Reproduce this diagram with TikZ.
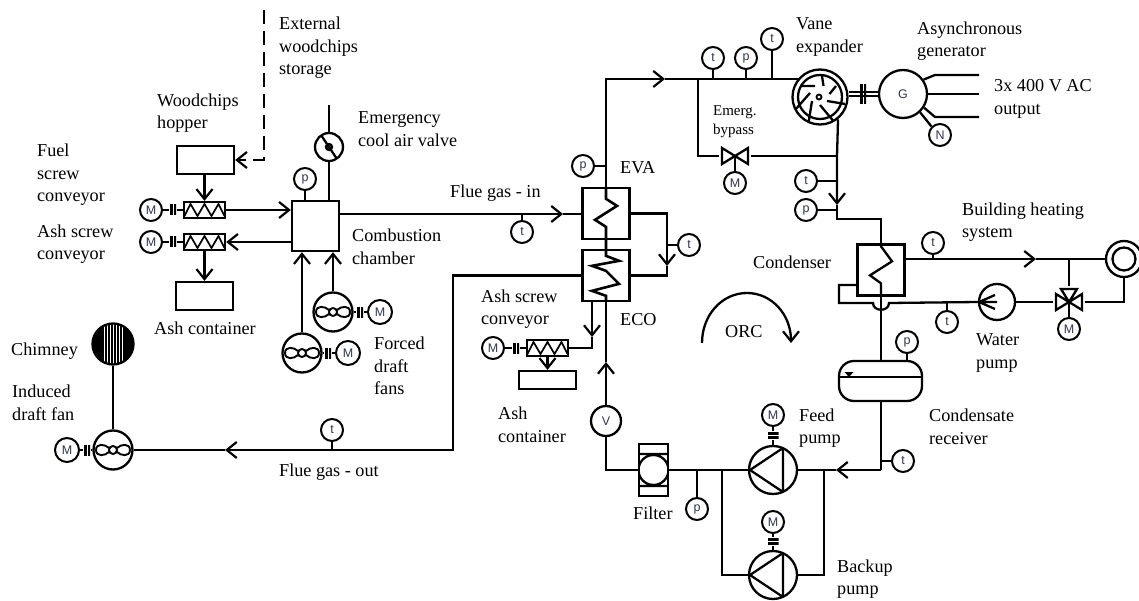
\documentclass[tikz,border=0pt]{standalone}
\usepackage{fontspec}
\setmainfont{Liberation Serif}
\setsansfont{Liberation Sans}
\usetikzlibrary{arrows.meta,positioning}
\begin{document}
\begin{tikzpicture}
      [x=1pt, y=-1pt, line width=2.3pt, >={Straight Barb[length=10pt,width=16pt,line width=2.2pt]},
      label node/.style={anchor=west,align=left,inner sep=0pt,font=\fontsize{18.2}{22.6}\selectfont},
      sensor node/.style={circle,draw,line width=2pt,minimum size=22pt,inner sep=0pt,text={rgb,255:red,45;green,55;blue,75},font=\sffamily\fontsize{12.5}{12.5}\selectfont},
      box node/.style={rectangle,draw,inner sep=0pt,minimum width=#1},
      exchanger node/.style={rectangle,draw,inner sep=0pt,minimum width=47pt,minimum height=51pt},
      screw node/.style={rectangle,draw,inner sep=0pt,minimum width=41pt,minimum height=16pt,
         path picture={\draw[line width=1.7pt,shift={(path picture bounding box.center)}]
            (-20,6) -- (-14,-6) -- (-7,6) -- (0,-6) -- (7,6) -- (14,-6) -- (20,6);}},
      coupling node/.style={rectangle,inner sep=0pt,minimum width=6pt,minimum height=#1,
         path picture={\draw[line width=5pt]
            (path picture bounding box.north west) -- (path picture bounding box.south west)
            (path picture bounding box.north east) -- (path picture bounding box.south east);}},
      shaft node/.style={rectangle,inner sep=0pt,minimum width=11pt,minimum height=6pt,
         path picture={\draw[line width=4.4pt]
            (path picture bounding box.north west) -- (path picture bounding box.north east)
            (path picture bounding box.south west) -- (path picture bounding box.south east);}},
      fan node/.style={circle,draw,minimum size=39pt,inner sep=0pt,
         path picture={\draw[line width=1.9pt,shift={(path picture bounding box.center)}]
            (0,0) circle (4)
            (-4,-2) .. controls (-8,-6) and (-17,-7) .. (-17,0) .. controls (-17,7) and (-8,6) .. (-4,2)
            (4,-2) .. controls (8,-6) and (17,-7) .. (17,0) .. controls (17,7) and (8,6) .. (4,2);}},
      pump node/.style={circle,draw,minimum size=48pt,inner sep=0pt,
         path picture={\draw[shift={(path picture bounding box.center)}]
            (-23,0) -- (10,-22) -- (10,22) -- cycle;}},
      valve node/.style={rectangle,inner sep=0pt,minimum width=29pt,minimum height=19pt,
         path picture={\draw[shift={(path picture bounding box.center)}]
            (-13,-8) -- (13,8) -- (13,-8) -- (-13,8) -- cycle;}},
      threeway node/.style={rectangle,inner sep=0pt,minimum width=29pt,minimum height=29pt,
         path picture={\draw[shift={(path picture bounding box.center)}]
            (0,0) -- (-8,-13) -- (8,-13) -- cycle
            (0,0) -- (-13,-8) -- (-13,8) -- cycle
            (0,0) -- (13,-8) -- (13,8) -- cycle;}}]
      \useasboundingbox (0,0) rectangle (1139,601);

      \node[box node=57pt, minimum height=28pt] (hopper) at (205.5,160) {};
      \node[screw node] (fuelscrew) at (204.5,210) {};
      \node[screw node] (ashscrew) at (204.5,242) {};
      \node[sensor node, left of=fuelscrew, node distance=53.5pt] (fuelmotor) {M};
      \node[sensor node, left of=ashscrew, node distance=53.5pt] (ashmotor) {M};
      \node[coupling node=11pt] (fuelcoupling) at (173,210) {};
      \node[coupling node=11pt] (ashcoupling) at (173,242) {};
      \node[box node=57pt, minimum height=28pt] (ashbox) at (204.5,296) {};
      \node[box node=47pt, minimum height=50pt] (chamber) at (315.5,226) {};
      \node[sensor node] (chamberp) at (305,179) {p};
      \node[circle,draw,minimum size=28pt,inner sep=0pt,
         path picture={\draw[shift={(path picture bounding box.center)}]
            (-8,-12) -- (8,12) (0,0) circle (3);}] (airvalve) at (329,147) {};
      \coordinate (airinlet) at (329,105);
      \coordinate (storage) at (264,10);

      \node[fan node] (upperfan) at (333,312) {};
      \node[fan node] (lowerfan) at (302,353) {};
      \node[sensor node, minimum size=24pt] (uppermotor) at (380,312) {M};
      \node[sensor node, minimum size=24pt] (lowermotor) at (348,353) {M};
      \node[coupling node=11pt] (uppercoupling) at (360,312) {};
      \node[coupling node=11pt] (lowercoupling) at (328,353) {};

      \node[circle,draw,fill=black,minimum size=41pt,inner sep=0pt,
         path picture={\foreach \i in {-9,-6,...,9}
            \draw[white,line width=0.6pt,shift={(path picture bounding box.center)}] (\i,-20) -- (\i,20);}] (chimney) at (113,344) {};
      \node[fan node] (idfan) at (113,450) {};
      \node[sensor node, minimum size=24pt] (idmotor) at (67,450) {M};
      \node[coupling node=11pt] (idcoupling) at (87,450) {};
      \node[sensor node] (fluet) at (332,430) {t};

      \node[exchanger node] (eva) at (606,213.5) {};
      \node[exchanger node] (eco) at (606,275.5) {};
      \node[sensor node] (fluein) at (522,232) {t};
      \node[sensor node] (evap) at (583,166) {p};
      \node[sensor node] (gast) at (689,245) {t};
      \node[screw node] (ecoscrew) at (547.5,348) {};
      \node[sensor node] (ecomotor) at (493,348) {M};
      \node[coupling node=11pt] (ecocoupling) at (516,348) {};
      \node[box node=57pt, minimum height=18pt] (ecobox) at (547.5,380) {};
      \node[circle,draw,minimum size=30pt,inner sep=0pt,text={rgb,255:red,45;green,55;blue,75},font=\sffamily\fontsize{12.5}{12.5}\selectfont] (vmeter) at (606,421) {V};

      \node[rectangle,draw,inner sep=0pt,minimum width=29pt,minimum height=52pt,
         path picture={\draw[shift={(path picture bounding box.center)}]
            (-15,-16) -- (15,-16) (-15,16) -- (15,16) (0,0) circle (15);}] (filter) at (653.5,470) {};
      \node[sensor node] (filterp) at (697,509) {p};
      \node[pump node] (feedpump) at (773,470) {};
      \node[pump node] (backuppump) at (773,575) {};
      \node[sensor node] (feedmotor) at (773,415) {M};
      \node[sensor node] (backupmotor) at (773,522) {M};
      \node[shaft node] (feedcoupling) at (773,435.5) {};
      \node[shaft node] (backupcoupling) at (773,541.5) {};
      \node[sensor node] (returnt) at (903,461) {t};

      \node[circle,draw,minimum size=55pt,inner sep=0pt,
         path picture={\begin{scope}[shift={(path picture bounding box.center)},yshift=3pt]
            \draw (0,0) circle (22);
            \draw[line width=1.8pt] (-1,0) circle (2.5);
            \draw (2,-21) -- (3.5,-11) (16,-11) -- (9.5,-3) (25,7) -- (7,4) (15,26) -- (0,8)
               (-12,29) -- (-8,4) (-25,13) -- (-10,-4) (-20,-11) -- (-5,-11);
            \end{scope}}] (expander) at (820,97) {};
      \node[circle,draw,minimum size=48pt,inner sep=0pt,text={rgb,255:red,45;green,55;blue,75},font=\sffamily\fontsize{12.5}{12.5}\selectfont] (generator) at (903,94) {G};
      \node[sensor node] (gridn) at (940,135) {N};
      \node[sensor node] (inlett) at (713,58) {t};
      \node[sensor node] (inletp) at (746,58) {p};
      \node[sensor node] (inlett2) at (772,39) {t};
      \node[valve node] (bypass) at (735,156) {};
      \node[sensor node] (bypassmotor) at (735,183) {M};
      \node[sensor node] (outlett) at (806,181) {t};
      \node[sensor node] (outletp) at (806,210) {p};

      \node[exchanger node] (condenser) at (881,270) {};
      \node[sensor node] (heatt) at (933,243) {t};
      \node[sensor node] (returnheat) at (947,322) {t};
      \node[circle,draw,minimum size=36pt,inner sep=0pt,
         path picture={\draw[shift={(path picture bounding box.center)}] (0,0) circle (11.5);}] (radiator) at (1124,259) {};
      \node[threeway node] (mixvalve) at (1069,302) {};
      \node[sensor node] (mixmotor) at (1069,329) {M};
      \node[circle,draw,minimum size=36pt,inner sep=0pt,
         path picture={\draw[shift={(path picture bounding box.center)}]
            (0,0) -- (-17,0) (-2,-7) -- (-18,0) -- (-2,7);}] (waterpump) at (997,302) {};
      \node[rectangle,rounded corners=15pt,draw,inner sep=0pt,minimum width=83pt,minimum height=40pt,
         path picture={\draw[sharp corners,shift={(path picture bounding box.center)}]
            (-42,-4) -- (42,-4);
            \fill[sharp corners,shift={(path picture bounding box.center)}]
            (-36,-9) -- (-27,-9) -- (-31.5,-4) -- cycle;}] (receiver) at (880.5,381) {};
      \node[sensor node] (receiverp) at (907,342) {p};

      \node[label node] (storagetext) at (278,48) {External\\woodchips\\storage};
      \node[label node] (hoppertext) at (156,113) {Woodchips\\hopper};
      \node[label node] (airtext) at (357,129) {Emergency\\cool air valve};
      \node[label node] (fueltext) at (36,175) {Fuel\\screw\\conveyor};
      \node[label node] (ashtext) at (36,244) {Ash screw\\conveyor};
      \node[label node] (chambertext) at (351,247) {Combustion\\chamber};
      \node[label node] (ashboxtext) at (153,328) {Ash container};
      \node[label node] (fluetext) at (449,193) {Flue gas - in};
      \node[label node] (fanstext) at (373,366) {Forced\\draft\\fans};
      \node[label node] (chimneytext) at (10,351) {Chimney};
      \node[label node] (idtext) at (11,403) {Induced\\draft fan};
      \node[label node] (outtext) at (278,472) {Flue gas - out};
      \node[label node] (evatext) at (619,168) {EVA};
      \node[label node] (ecotext) at (619,320) {ECO};
      \node[label node] (ecoscrewtext) at (480,309) {Ash screw\\conveyor};
      \node[label node] (ecoboxtext) at (497,425) {Ash\\container};
      \node[label node] (filtertext) at (632,513) {Filter};
      \node[label node] (feedtext) at (798,428) {Feed\\pump};
      \node[label node] (backuptext) at (836,579) {Backup\\pump};
      \node[label node] (receivertext) at (928,427) {Condensate\\receiver};
      \node[label node] (watertext) at (975,353) {Water\\pump};
      \node[label node] (condensertext) at (752,262) {Condenser};
      \node[label node] (heatingtext) at (961,222) {Building heating\\system};
      \node[label node] (expandertext) at (795,37) {Vane\\expander};
      \node[label node] (generatortext) at (916,41) {Asynchronous\\generator};
      \node[label node] (outputtext) at (993,99) {3x 400 V AC\\output};
      \node[label node, font=\fontsize{15}{19}\selectfont] (bypasstext) at (712,122) {Emerg.\\bypass};
      \node[label node] (orctext) at (724,332) {ORC};

      \draw[->, line width=2.7pt, dash pattern=on 14pt off 7pt] (storage) |- (hopper.east);
      \draw[->] (hopper.south -| fuelscrew) -- (fuelscrew.north);
      \draw (fuelmotor) -- (fuelcoupling) -- (fuelscrew);
      \draw (ashmotor) -- (ashcoupling) -- (ashscrew);
      \draw[->] (fuelscrew.east) -- (fuelscrew.east -| chamber.west);
      \draw[->] (ashscrew.east -| chamber.west) -- (ashscrew.east);
      \draw[->] (ashscrew.south) -- (ashbox.north);
      \draw (chamberp.south) -- (chamberp.south |- chamber.north);
      \draw (airinlet) -- (airvalve.north);
      \draw (airvalve.south) -- (airvalve.south |- chamber.north);
      \draw[->] (upperfan.north) -- (upperfan.north |- chamber.south);
      \draw[->] (lowerfan.north) -- (lowerfan.north |- chamber.south);
      \draw (upperfan) -- (uppercoupling) -- (uppermotor);
      \draw (lowerfan) -- (lowercoupling) -- (lowermotor);

      \coordinate (inarrow) at (563,214);
      \coordinate (outarrow) at (225,450);
      \coordinate (outcorner) at (453,450);
      \coordinate (gasarrow) at (667,266);
      \coordinate (ecoash) at (592,301);
      \coordinate (ecoasharrow) at (592,337);
      \draw[->] (inarrow -| chamber.east) -- (inarrow);
      \draw (inarrow) -- (inarrow -| eva.west);
      \draw (fluein.north) -- (fluein.north |- inarrow);
      \draw[->] (eco.west) -| (outcorner) -- (outarrow);
      \draw (outarrow) -- (idfan.east);
      \draw (fluet.south) -- (fluet.south |- idfan);
      \draw (chimney) -- (idfan);
      \draw (idfan) -- (idcoupling) -- (idmotor);
      \draw[->] (eva.east) -| (gasarrow);
      \draw (gasarrow) |- (eco.east);
      \draw (gast.west) -- (gast.west -| gasarrow);
      \draw[->] (ecoash) -- (ecoasharrow);
      \draw (ecoasharrow) |- (ecoscrew.east);
      \draw (ecomotor) -- (ecocoupling) -- (ecoscrew);
      \draw[->] (ecoscrew.south) -- (ecobox.north);

      \coordinate (looparrow) at (665,79);
      \coordinate (loopcorner) at (606,79);
      \coordinate (expanderinlet) at (800,79);
      \coordinate (bypasstee) at (698,79);
      \coordinate (bypassend) at (837,156);
      \coordinate (outletarrow) at (837,205);
      \coordinate (outletcorner) at (837,219);
      \coordinate (vanearrow) at (606,362);
      \coordinate (suction) at (722,470);
      \coordinate (discharge) at (824,470);
      \coordinate (receivercorner) at (881,470);
      \coordinate (feedarrow) at (836,470);
      \draw[->, line width=2.8pt] (eva.north) -- (loopcorner) -- (looparrow);
      \draw[line width=2.8pt] (looparrow) -- (expanderinlet);
      \draw[line width=2.6pt] (eva.north) -- ++(0,12) -- ++(11,7) -- ++(-22,14) -- ++(11,7) -- (eva.south)
         -- (eco.north) -- ++(0,7) -- ++(13,5) -- ++(-27,5) -- ++(14,5) -- ++(13,13) -- ++(-27,7) -- ++(14,5) -- (eco.south);
      \draw[->, line width=2.8pt] (vmeter.north) -- (vanearrow);
      \draw[line width=2.8pt] (vanearrow) -- (eco.south);
      \draw (evap.east) -- (evap.east -| loopcorner);
      \draw (vmeter.south) |- (filter.west);
      \draw (filter.east) -- (feedpump.west);
      \draw (filterp.north) -- (filterp.north |- filter);
      \draw (suction) |- (backuppump.west);
      \draw (discharge) |- (backuppump.east);
      \draw (receiver.south -| receivercorner) -- (receivercorner);
      \draw[->] (receivercorner) -- (feedarrow);
      \draw (feedarrow) -- (feedpump.east);
      \draw (returnt.west) -- (returnt.west -| receivercorner);
      \draw (feedmotor) -- (feedcoupling) -- (feedpump);
      \draw (backupmotor) -- (backupcoupling) -- (backuppump);

      \draw (inlett.south) -- (inlett.south |- looparrow);
      \draw (inletp.south) -- (inletp.south |- looparrow);
      \draw (inlett2.south) -- (inlett2.south |- looparrow);
      \draw (bypasstee) |- (bypass.west);
      \draw (bypass.east) -- (bypassend);
      \draw (bypass.center) -- (bypassmotor.north);
      \draw[->] (expander.-51) -- (bypassend) -- (outletarrow);
      \draw (outletarrow) -- (outletcorner) -| (condenser.north);
      \draw (outlett.east) -- (outlett.east -| bypassend);
      \draw (outletp.east) -- (outletp.east -| bypassend);
      \draw[double, double distance=2.4pt, line width=1.8pt] (generator.west) -- (generator.west -| expander.east);
      \node[coupling node=20pt] (gencoupling) at (863,94) {};
      \coordinate (gridtop) at (979,75);
      \coordinate (gridmid) at (979,94);
      \coordinate (gridlow) at (979,117);
      \draw (generator.35) -- (935,75) -- (gridtop);
      \draw (generator.east) -- (gridmid);
      \draw (generator.-33) -- (935,117) -- (gridlow);
      \draw (generator.-47) -- (gridn.135);

      \coordinate (heatarrow) at (1036,259);
      \coordinate (heattee) at (1069,259);
      \coordinate (stub) at (858,285);
      \coordinate (stubcorner) at (839,303);
      \coordinate (bumpleft) at (873,303);
      \coordinate (bumpright) at (889,303);
      \draw (condenser.north) -- ++(0,3) -- ++(11,15) -- ++(-22,14) -- ++(11,8) -- (condenser.south);
      \draw (condenser.south) -- (receiver.north -| condenser.south);
      \draw[->] (heatarrow -| condenser.east) -- (heatarrow);
      \draw (heatarrow) -- (radiator.west);
      \draw (heatt.south) -- (heatt.south |- heatarrow);
      \draw (heattee) -- (mixvalve.north);
      \draw (mixvalve.center) -- (mixmotor.north);
      \draw (mixvalve.east) -| (radiator.south);
      \draw (mixvalve.west) -- (waterpump.east);
      \draw (waterpump.west) -- (bumpright) .. controls (889,312) and (873,312) .. (bumpleft) -- (stubcorner) |- (stub);
      \draw (returnheat.north) -- (returnheat.north |- waterpump);
      \draw (receiverp.south) -- (receiverp.south |- receiver.north);

      \coordinate (orcstart) at (702,343);
      \coordinate (orcend) at (791,343);
      \draw[->] (orcstart) .. controls (702,315) and (722,293) .. (747,293) .. controls (772,293) and (791,315) .. (orcend);
   \end{tikzpicture}
\end{document}
